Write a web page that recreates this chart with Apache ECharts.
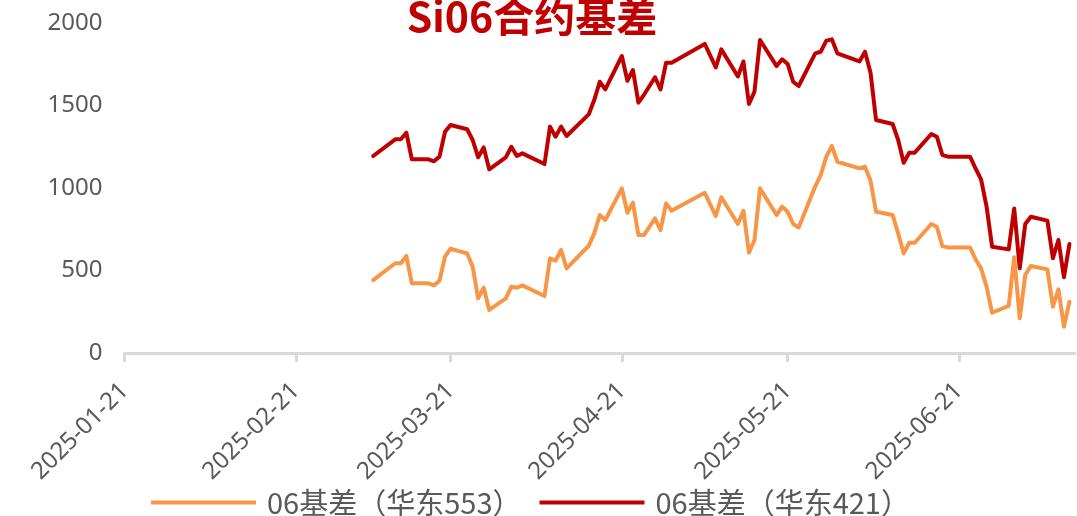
<!DOCTYPE html>
<html>
<head>
<meta charset="utf-8">
<script src="https://cdn.jsdelivr.net/npm/echarts@6/dist/echarts.min.js"></script>
<style>
  html, body { margin: 0; padding: 0; background: #fff; }
  #main { width: 1077px; height: 516px; }
</style>
</head>
<body>
<div id="main"></div>
<script>
  // 日期（交易日，读图估计）
  var dates = [
    '2025-03-07', '2025-03-11', '2025-03-12', '2025-03-13', '2025-03-14', '2025-03-17', '2025-03-18',
    '2025-03-19', '2025-03-20', '2025-03-21', '2025-03-24', '2025-03-25', '2025-03-26', '2025-03-27',
    '2025-03-28', '2025-03-31', '2025-04-01', '2025-04-02', '2025-04-03', '2025-04-07', '2025-04-08',
    '2025-04-09', '2025-04-10', '2025-04-11', '2025-04-15', '2025-04-16', '2025-04-17', '2025-04-18',
    '2025-04-21', '2025-04-22', '2025-04-23', '2025-04-24', '2025-04-25', '2025-04-27', '2025-04-28',
    '2025-04-29', '2025-04-30', '2025-05-06', '2025-05-08', '2025-05-09', '2025-05-12', '2025-05-13',
    '2025-05-14', '2025-05-15', '2025-05-16', '2025-05-19', '2025-05-20', '2025-05-21', '2025-05-22',
    '2025-05-23', '2025-05-26', '2025-05-27', '2025-05-28', '2025-05-29', '2025-05-30', '2025-06-03',
    '2025-06-04', '2025-06-05', '2025-06-06', '2025-06-09', '2025-06-10', '2025-06-11', '2025-06-12',
    '2025-06-13', '2025-06-16', '2025-06-17', '2025-06-18', '2025-06-19', '2025-06-23', '2025-06-24',
    '2025-06-25', '2025-06-26', '2025-06-27', '2025-06-30', '2025-07-01', '2025-07-02', '2025-07-03',
    '2025-07-04', '2025-07-07', '2025-07-08', '2025-07-09', '2025-07-10', '2025-07-11'
  ];

  // 06基差（华东553）
  var basis553 = [
    442, 544, 544, 588, 422, 422, 410,
    438, 584, 632, 604, 523, 331, 396,
    261, 331, 402, 396, 410, 345, 574,
    559, 624, 513, 650, 725, 836, 806,
    998, 850, 911, 715, 715, 816, 745,
    907, 862, 971, 830, 944, 782, 862,
    608, 685, 998, 836, 887, 856, 782,
    761, 1010, 1079, 1190, 1255, 1159, 1119,
    1129, 1044, 856, 836, 725, 604, 668,
    668, 782, 765, 648, 640, 640, 568,
    513, 402, 244, 285, 580, 210, 473,
    527, 507, 281, 386, 159, 311
  ];

  // 06基差（华东421）
  var basis421 = [
    1194, 1295, 1295, 1335, 1174, 1174, 1162,
    1190, 1341, 1382, 1356, 1291, 1186, 1246,
    1113, 1186, 1250, 1194, 1210, 1145, 1372,
    1311, 1372, 1315, 1446, 1533, 1644, 1598,
    1800, 1650, 1715, 1517, 1565, 1671, 1598,
    1759, 1759, 1873, 1731, 1840, 1676, 1767,
    1509, 1584, 1897, 1739, 1780, 1752, 1644,
    1618, 1816, 1826, 1893, 1901, 1816, 1767,
    1826, 1699, 1412, 1388, 1291, 1153, 1214,
    1214, 1327, 1311, 1200, 1190, 1190, 1119,
    1052, 887, 644, 628, 876, 513, 782,
    826, 802, 574, 685, 459, 661
  ];

  // X轴刻度
  var tickDates = ['2025-01-21', '2025-02-21', '2025-03-21', '2025-04-21', '2025-05-21', '2025-06-21'];
  var seriesNames = ['06基差（华东553）', '06基差（华东421）'];
  var colors = ['#F79646', '#C00000'];

  function pairs(vals) {
    var out = [];
    for (var i = 0; i < dates.length; i++) {
      out.push([dates[i], vals[i]]);
    }
    return out;
  }

  var myChart = echarts.init(document.getElementById('main'));

  myChart.setOption({
    animation: false,
    color: colors,
    title: {
      text: 'Si06合约基差',
      left: 527,
      top: -9,
      textAlign: 'center',
      textStyle: {
        color: '#C00000',
        fontSize: 41,
        fontWeight: 'bold',
        fontFamily: 'Noto Sans CJK SC'
      }
    },
    legend: {
      left: 146,
      top: 483,
      icon: 'rect',
      itemWidth: 105,
      itemHeight: 4,
      itemGap: 18,
      data: seriesNames,
      textStyle: {
        color: '#595959',
        fontSize: 29,
        fontFamily: 'Noto Sans CJK SC',
        padding: [0, 0, 0, 6]
      }
    },
    grid: {
      left: 124.5,
      right: 2,
      top: 23,
      bottom: 163,
      containLabel: false
    },
    xAxis: {
      type: 'time',
      min: '2025-01-21',
      max: '2025-07-12',
      axisLine: {
        lineStyle: { color: '#D9D9D9', width: 3 }
      },
      axisTick: {
        show: true,
        length: 9,
        customValues: tickDates,
        lineStyle: { color: '#D9D9D9', width: 3 }
      },
      axisLabel: {
        customValues: tickDates,
        formatter: '{yyyy}-{MM}-{dd}',
        rotate: 45,
        margin: 34,
        color: '#595959',
        fontSize: 24,
        fontFamily: 'Noto Sans'
      },
      splitLine: { show: false }
    },
    yAxis: {
      type: 'value',
      min: 0,
      max: 2000,
      interval: 500,
      axisLine: { show: false },
      axisTick: { show: false },
      splitLine: { show: false },
      axisLabel: {
        margin: 22,
        color: '#595959',
        fontSize: 24,
        fontFamily: 'Noto Sans',
        formatter: function (v) { return String(v); }
      }
    },
    series: [
      {
        name: seriesNames[0],
        type: 'line',
        data: pairs(basis553),
        showSymbol: false,
        symbol: 'none',
        lineStyle: { width: 4, color: colors[0], join: 'round', cap: 'round' },
        itemStyle: { color: colors[0] }
      },
      {
        name: seriesNames[1],
        type: 'line',
        data: pairs(basis421),
        showSymbol: false,
        symbol: 'none',
        lineStyle: { width: 4, color: colors[1], join: 'round', cap: 'round' },
        itemStyle: { color: colors[1] }
      }
    ]
  });
</script>
</body>
</html>
